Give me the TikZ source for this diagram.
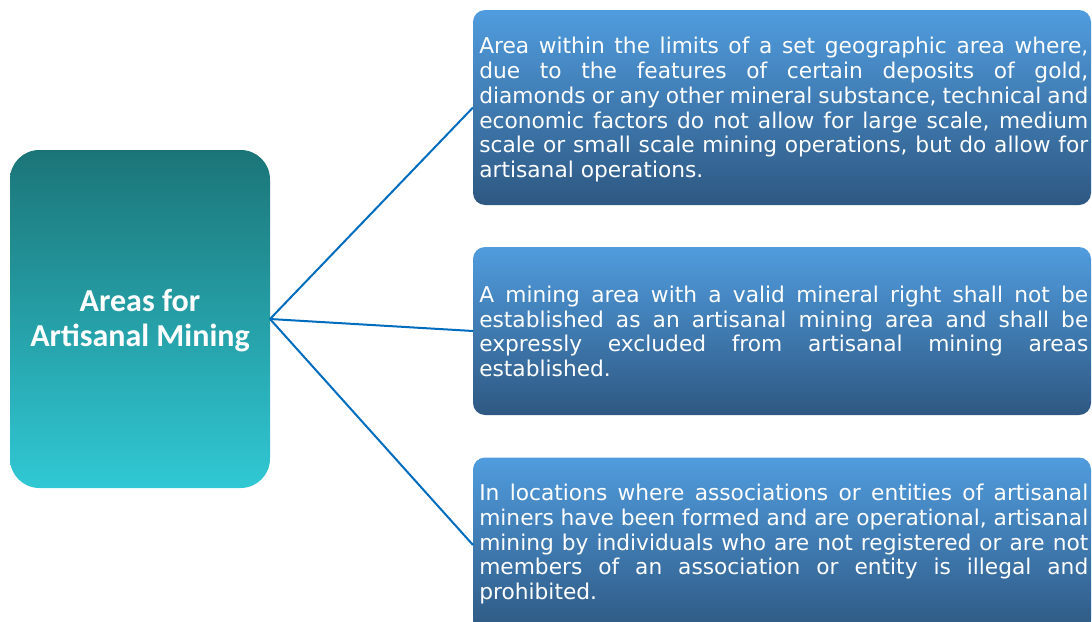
\documentclass[tikz,border=0pt]{standalone}
\usepackage{fontspec}
\setmainfont{DejaVu Sans}
\newfontfamily\titlefont{Carlito}
\definecolor{tealtop}{RGB}{27,117,120}
\definecolor{tealbot}{RGB}{48,200,212}
\definecolor{bluetop}{RGB}{80,156,222}
\definecolor{bluebot}{RGB}{46,88,130}
\definecolor{linkblue}{RGB}{0,108,190}
\newlength{\linew}
\setlength{\linew}{456.75pt}% 609px
\newcommand{\jline}[1]{\makebox[\linew][s]{#1}}
\tikzset{
  mainbox/.style={rounded corners=22pt, top color=tealtop, bottom color=tealbot, draw=none,
    minimum width=195pt, minimum height=253.5pt, inner sep=0pt, outer sep=0pt},
  infobox/.style={rounded corners=9pt, top color=bluetop, bottom color=bluebot, draw=none,
    minimum width=463.5pt, inner sep=0pt, outer sep=0pt},
  txt/.style={anchor=base west, inner sep=0pt, text=white, font=\fontsize{16.3}{18}\selectfont},
  link/.style={draw=linkblue, line width=1.5pt}
}
\begin{document}
\begin{tikzpicture}[x=0.75pt,y=-0.75pt]
\useasboundingbox (0,0) rectangle (1092,621);
\node[mainbox] (main) at (140,319) {};
\node[text=white, align=center, font=\titlefont\bfseries\fontsize{24}{26.25}\selectfont] (title) at (140,321) {Areas for\\Artisanal Mining};
\node[infobox, minimum height=146.25pt] (b1) at (782,107.5) {};
\node[infobox, minimum height=126pt] (b2) at (782,331) {};
\node[infobox, minimum height=131.25pt] (b3) at (782,545) {};
% box 1 text
\node[txt] (t11) at (479,53) {\jline{Area within the limits of a set geographic area where,}};
\node[txt] (t12) at (479,78) {\jline{due to the features of certain deposits of gold,}};
\node[txt] (t13) at (479,103) {\jline{diamonds or any other mineral substance, technical and}};
\node[txt] (t14) at (479,128) {\jline{economic factors do not allow for large scale, medium}};
\node[txt] (t15) at (479,152) {\jline{scale or small scale mining operations, but do allow for}};
\node[txt] (t16) at (479,177) {artisanal operations.};
% box 2 text
\node[txt] (t21) at (479,302) {\jline{A mining area with a valid mineral right shall not be}};
\node[txt] (t22) at (479,327) {\jline{established as an artisanal mining area and shall be}};
\node[txt] (t23) at (479,351) {\jline{expressly excluded from artisanal mining areas}};
\node[txt] (t24) at (479,376) {established.};
% box 3 text
\node[txt] (t31) at (479,500) {\jline{In locations where associations or entities of artisanal}};
\node[txt] (t32) at (479,525) {\jline{miners have been formed and are operational, artisanal}};
\node[txt] (t33) at (479,550) {\jline{mining by individuals who are not registered or are not}};
\node[txt] (t34) at (479,574) {\jline{members of an association or entity is illegal and}};
\node[txt] (t35) at (479,599) {prohibited.};
% connectors
\draw[link] (main.east) -- (b1.west);
\draw[link] (main.east) -- (b2.west);
\draw[link] (main.east) -- (b3.west);
\end{tikzpicture}
\end{document}
